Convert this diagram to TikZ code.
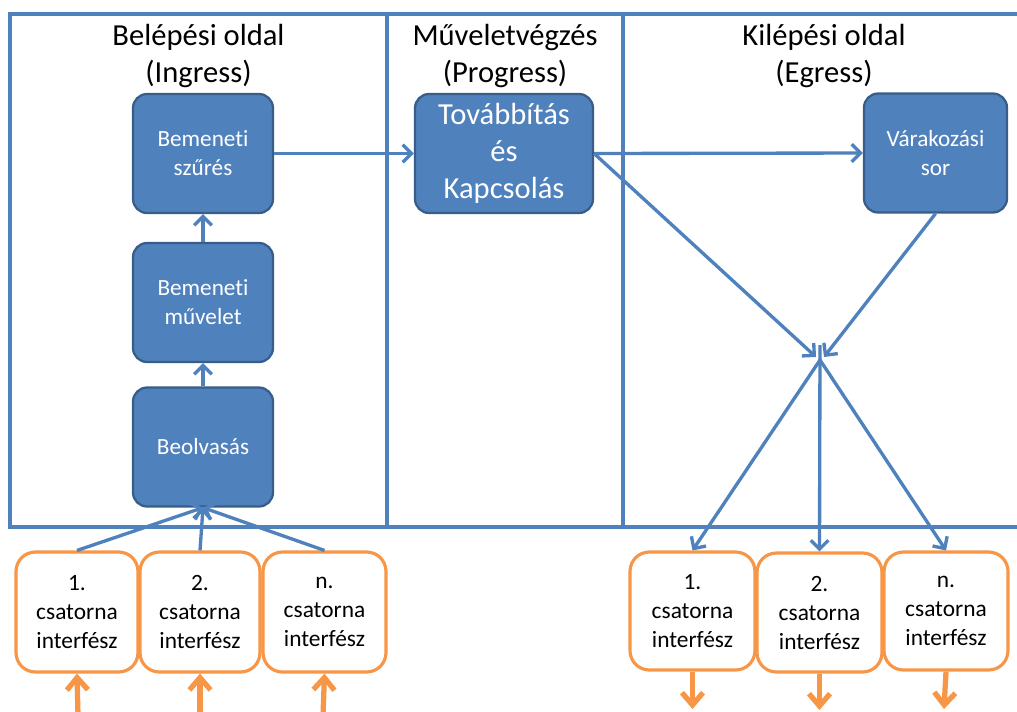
\documentclass[tikz,border=0pt]{standalone}
\usepackage{fontspec}
\setmainfont{Carlito}[Ligatures={NoCommon}]
\usetikzlibrary{arrows.meta}
\definecolor{bl}{HTML}{4F81BD}
\definecolor{bldark}{HTML}{385D8A}
\definecolor{org}{HTML}{F79646}
\begin{document}
\begin{tikzpicture}[x=0.02cm,y=-0.02cm,
  frame/.style={draw=bl,line width=1.9pt},
  titletext/.style={align=center,inner sep=0pt,font=\fontsize{17.4}{21}\selectfont},
  bluebox/.style={draw=bldark,line width=1.3pt,fill=bl,rounded corners=8pt,text=white,align=center,
    minimum width=2.8cm,minimum height=2.38cm,inner sep=0pt,font=\fontsize{13.2}{16.5}\selectfont},
  bigbox/.style={bluebox,minimum width=3.56cm,font=\fontsize{17.4}{21}\selectfont},
  orangebox/.style={draw=org,line width=1.8pt,fill=white,rounded corners=11pt,align=center,
    minimum height=2.4cm,inner sep=0pt,font=\fontsize{13.3}{16.5}\selectfont},
  bluearrow/.style={draw=bl,line width=1.9pt,-{Straight Barb[length=5pt,width=10pt]}},
  orangearrow/.style={draw=org,line width=3pt,-{Straight Barb[length=7pt,width=12pt]}}]
\useasboundingbox (0,0) rectangle (1017,711);

% frame
\draw[frame] (10,14) rectangle (1030,527);
\draw[frame] (387,14) -- (387,527);
\draw[frame] (623,14) -- (623,527);

% titles
\node[titletext] (t1) at (198.5,56) {Belépési oldal\\(Ingress)};
\node[titletext] (t2) at (505,56) {Műveletvégzés\\(Progress)};
\node[titletext] (t3) at (824,56) {Kilépési oldal\\(Egress)};

% blue boxes
\node[bluebox] (szu) at (203,153.5) {Bemeneti\\szűrés};
\node[bluebox] (mu) at (203,302.5) {Bemeneti\\művelet};
\node[bluebox] (beol) at (203,447) {Beolvasás};
\node[bigbox] (tov) at (504,153.5) {Továbbítás\\és\\Kapcsolás};
\node[bluebox,minimum width=2.86cm] (var) at (935.5,153) {Várakozási\\sor};

% orange boxes (left)
\node[orangebox,minimum width=2.44cm] (o1) at (77,612) {1.\\csatorna\\interfész};
\node[orangebox,minimum width=2.4cm] (o2) at (200,612) {2.\\csatorna\\interfész};
\node[orangebox,minimum width=2.46cm] (o3) at (324.5,612) {n.\\csatorna\\interfész};

% orange boxes (right)
\node[orangebox,minimum width=2.5cm,minimum height=2.36cm] (p1) at (692.5,611) {1.\\csatorna\\interfész};
\node[orangebox,minimum width=2.5cm,minimum height=2.38cm] (p2) at (819.5,612.5) {2.\\csatorna\\interfész};
\node[orangebox,minimum width=2.48cm,minimum height=2.36cm] (p3) at (946,611) {n.\\csatorna\\interfész};

% junction coordinates
\coordinate (j) at (820,360);
\coordinate (jl) at (816,357);
\coordinate (jr) at (824,357);
\coordinate (jv) at (820,345);
\coordinate (i1) at (78,716);
\coordinate (i2) at (200,716);
\coordinate (i3) at (323,716);
\coordinate (e1) at (692.5,709);
\coordinate (e2) at (819.5,710);
\coordinate (e3) at (944,709);

% ingress connectors
\draw[bluearrow] (o1.north) -- (beol.south);
\draw[bluearrow] (o2.north) -- (beol.south);
\draw[bluearrow] (o3.north) -- (beol.south);
\draw[bluearrow] (beol.north) -- (mu.south);
\draw[bluearrow] (mu.north) -- (szu.south);
\draw[bluearrow] (szu.east) -- (tov.west);

% progress / egress connectors
\draw[bluearrow] (tov.east) -- (var.west);
\draw[bluearrow] (tov.east) -- (jl);
\draw[bluearrow] (var.south) -- (jr);
\draw[bluearrow] (j) -- (p1.north);
\draw[bluearrow] (jv) -- (p2.north);
\draw[bluearrow] (j) -- (p3.north);

% input / output arrows
\draw[orangearrow] (i1) -- (o1.south);
\draw[orangearrow] (i2) -- (o2.south);
\draw[orangearrow] (i3) -- (o3.south);
\draw[orangearrow] (p1.south) -- (e1);
\draw[orangearrow] (p2.south) -- (e2);
\draw[orangearrow] (p3.south) -- (e3);
\end{tikzpicture}
\end{document}
